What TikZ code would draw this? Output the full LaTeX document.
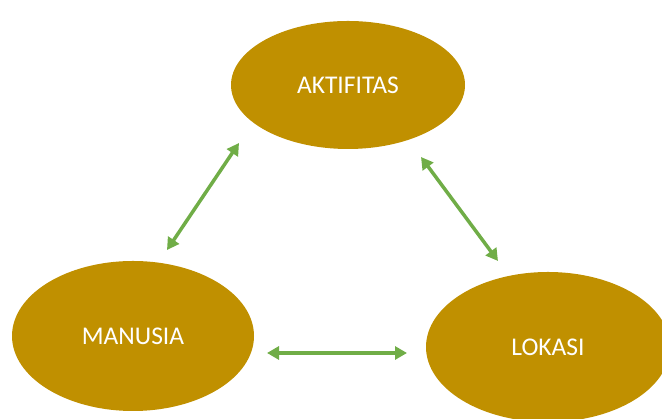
\documentclass[tikz,border=0pt]{standalone}
\usepackage{fontspec}
\setmainfont{Carlito}
\usetikzlibrary{shapes.geometric,arrows.meta}
\definecolor{gold}{RGB}{192,144,0}
\definecolor{leaf}{RGB}{112,173,71}
\tikzset{
  blob/.style={ellipse,fill=gold,draw=none,inner sep=0pt,text=white,font=\fontsize{25.5}{30}\selectfont},
  link/.style={draw=leaf,line width=3.5pt,{Triangle[length=12pt,width=13pt]}-{Triangle[length=12pt,width=13pt]}}
}
\begin{document}
\begin{tikzpicture}[x=1pt,y=1pt]
\useasboundingbox (0,0) rectangle (662,419);
\begin{scope}
\clip (0,0) rectangle (662,419);
\node[blob,minimum width=234pt,minimum height=128pt] (akt) at (348,334) {AKTIFITAS};
\node[blob,minimum width=242pt,minimum height=150pt] (man) at (133,83) {MANUSIA};
\node[blob,minimum width=244pt,minimum height=150pt] (lok) at (548,72) {LOKASI};
\end{scope}
\coordinate (a1) at (167,169);
\coordinate (a2) at (239,276);
\coordinate (b1) at (421,262);
\coordinate (b2) at (498,158);
\coordinate (c1) at (267,66);
\coordinate (c2) at (407,66);
\draw[link] (a1) -- (a2);
\draw[link] (b1) -- (b2);
\draw[link] (c1) -- (c2);
\end{tikzpicture}
\end{document}
